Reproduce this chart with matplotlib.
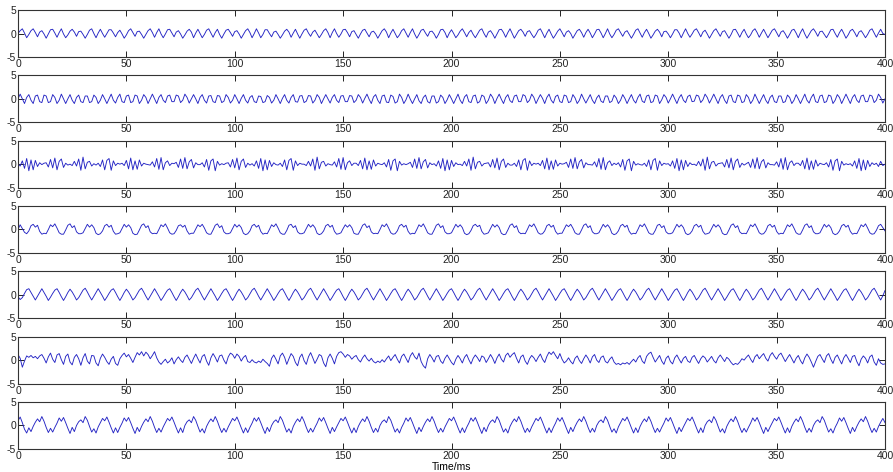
import numpy as np
import matplotlib
matplotlib.use('Agg')
import matplotlib.pyplot as plt

# sampling step of all channels, ms
dt = 1.0

ch1 = [
    0.0, 0.6, 1.0, 0.1, -0.9, -0.2, 0.6, 1.0, 0.2, -0.7, 0.3, 0.6, -0.1, -1.0, -0.1, 0.8, 0.9, 0.1,
    -0.8, 0.2, 1.0, -0.1, -0.9, -0.3, 0.5, 0.9, 0.3, -0.6, 0.4, 0.5, -0.2, -1.0, -0.2, 0.7, 1.0, 0.0,
    -0.9, 0.1, 0.9, 0.0, -0.8, 0.0, 0.8, 0.8, 0.1, -0.7, 0.2, 0.7, -0.1, -1.0, -0.3, 0.6, 1.0, 0.2,
    -0.6, 0.4, 0.5, -0.2, -1.0, -0.2, 0.6, 1.0, 0.2, -0.8, 0.2, 1.0, -0.1, -0.9, -0.1, 0.8, 0.9, 0.1,
    -0.7, 0.3, 0.6, -0.1, -1.0, -0.3, 0.5, 0.9, 0.3, -0.9, 0.1, 0.9, 0.0, -0.9, -0.2, 0.7, 1.0, 0.1,
    -0.8, 0.2, 0.9, -0.2, -1.0, -0.1, 0.7, 0.9, 0.2, -0.6, 0.4, 0.6, -0.1, -1.0, -0.2, 0.6, 1.0, 0.2,
    -0.9, 0.0, 1.0, 0.1, -0.9, -0.2, 0.8, 0.8, 0.0, -0.7, 0.3, 0.5, -0.2, -1.0, -0.3, 0.5, 0.9, 0.3,
    -0.8, 0.1, 0.9, -0.1, -1.0, -0.1, 0.7, 1.0, 0.1, -0.6, 0.3, 0.7, -0.1, -0.9, -0.2, 0.6, 1.0, 0.2,
    -0.9, 0.2, 1.0, 0.0, -0.8, -0.1, 0.8, 0.9, 0.2, -0.7, 0.4, 0.6, -0.2, -1.0, -0.1, 0.7, 0.9, 0.1,
    -0.7, 0.3, 0.5, -0.1, -1.0, -0.2, 0.6, 1.0, 0.3, -0.9, 0.1, 0.9, 0.0, -0.9, -0.3, 0.6, 1.0, 0.1,
    -0.8, 0.2, 1.0, -0.1, -1.0, -0.2, 0.7, 0.9, 0.1, -0.6, 0.4, 0.5, -0.1, -1.0, -0.2, 0.8, 0.9, 0.2,
    -0.9, 0.1, 0.8, 0.0, -0.9, -0.3, 0.5, 1.0, 0.2, -0.7, 0.2, 0.7, -0.2, -0.9, -0.1, 0.7, 1.0, 0.0,
    -0.8, 0.3, 0.6, -0.1, -1.0, -0.1, 0.8, 0.9, 0.2, -0.8, 0.2, 1.0, 0.0, -1.0, -0.2, 0.6, 0.9, 0.3,
    -0.6, 0.4, 0.6, -0.2, -0.9, -0.2, 0.7, 1.0, 0.1, -0.9, 0.1, 0.9, -0.1, -1.0, -0.3, 0.5, 1.0, 0.2,
    -0.7, 0.3, 0.6, 0.0, -1.0, -0.2, 0.6, 0.9, 0.2, -0.8, 0.2, 0.9, 0.1, -0.9, -0.1, 0.8, 0.9, 0.1,
    -0.9, 0.0, 1.0, -0.1, -0.9, -0.2, 0.7, 1.0, 0.2, -0.6, 0.3, 0.6, -0.2, -1.0, -0.2, 0.7, 1.0, 0.1,
    -0.8, 0.2, 0.9, 0.0, -1.0, -0.3, 0.5, 0.9, 0.3, -0.7, 0.4, 0.5, -0.1, -0.9, -0.1, 0.8, 0.8, 0.1,
    -0.9, 0.1, 1.0, 0.0, -0.8, -0.1, 0.7, 1.0, 0.2, -0.7, 0.3, 0.7, -0.1, -1.0, -0.2, 0.6, 1.0, 0.2,
    -0.6, 0.4, 0.6, -0.2, -1.0, -0.2, 0.8, 0.9, 0.1, -0.8, 0.2, 0.9, -0.1, -0.9, -0.3, 0.6, 1.0, 0.2,
    -0.8, 0.1, 0.9, 0.0, -0.9, -0.1, 0.7, 1.0, 0.2, -0.7, 0.3, 0.6, -0.1, -1.0, -0.2, 0.7, 0.9, 0.1,
    -0.9, 0.2, 1.0, -0.1, -1.0, -0.2, 0.6, 1.0, 0.3, -0.6, 0.4, 0.5, -0.2, -0.9, -0.1, 0.8, 0.9, 0.0,
    -0.8, 0.2, 0.9, 0.0, -1.0, -0.3, 0.6, 0.9, 0.2, -0.7, 0.3, 0.6, -0.1, -0.9, -0.2, 0.7, 1.0, 0.1,
    -0.8, 0.1, 0.9, 0.0, -0.2,
]

ch2 = [
    0.0, 1.0, 0.0, -1.0, 0.3, 0.9, -0.3, -1.0, 0.6, 0.8, -0.6, -0.8, 0.8, 0.6, -0.8, -0.6, 0.9, 0.3, -1.0, -0.3,
    1.0, 0.0, -1.0, 0.0, 0.9, -0.3, -1.0, 0.3, 0.8, -0.6, -0.8, 0.6, 0.6, -0.8, -0.6, 0.8, 0.3, -1.0, -0.3, 0.9,
    0.0, -1.0, 0.0, 1.0, -0.3, -0.9, 0.3, 1.0, -0.6, -0.8, 0.6, 0.8, -0.8, -0.6, 0.8, 0.6, -1.0, -0.3, 0.9, 0.3,
    -1.0, 0.0, 1.0, 0.0, -1.0, 0.3, 0.9, -0.3, -0.8, 0.6, 0.8, -0.6, -0.6, 0.8, 0.6, -0.8, -0.3, 1.0, 0.3, -0.9,
    0.0, 0.9, 0.0, -1.0, 0.3, 0.9, -0.3, -0.9, 0.6, 0.7, -0.6, -0.8, 0.7, 0.6, -0.8, -0.5, 0.9, 0.3, -0.9, -0.3,
    0.9, 0.0, -1.0, 0.1, 0.9, -0.3, -0.9, 0.3, 0.7, -0.6, -0.8, 0.6, 0.5, -0.8, -0.6, 0.7, 0.3, -0.9, -0.3, 0.9,
    0.0, -1.0, 0.1, 0.9, -0.3, -0.9, 0.3, 0.9, -0.6, -0.7, 0.6, 0.7, -0.8, -0.5, 0.7, 0.6, -0.9, -0.3, 0.9, 0.3,
    -1.0, 0.0, 0.9, 0.0, -0.9, 0.3, 0.9, -0.3, -0.8, 0.6, 0.7, -0.6, -0.6, 0.7, 0.6, -0.8, -0.3, 0.9, 0.3, -0.9,
    0.1, 1.0, -0.1, -1.0, 0.4, 0.9, -0.3, -1.0, 0.6, 0.8, -0.7, -0.8, 0.8, 0.5, -0.9, -0.6, 1.0, 0.3, -1.0, -0.2,
    1.0, -0.1, -1.0, 0.0, 0.9, -0.4, -1.0, 0.3, 0.8, -0.6, -0.9, 0.6, 0.6, -0.9, -0.6, 0.8, 0.3, -1.0, -0.2, 0.9,
    0.0, -1.0, 0.0, 1.0, -0.3, -1.0, 0.4, 0.9, -0.6, -0.8, 0.6, 0.8, -0.9, -0.6, 0.8, 0.5, -1.0, -0.3, 1.0, 0.3,
    -1.0, 0.1, 1.0, -0.1, -1.0, 0.3, 0.9, -0.4, -0.8, 0.6, 0.8, -0.6, -0.6, 0.9, 0.6, -0.8, -0.3, 1.0, 0.3, -1.0,
    0.0, 0.9, 0.1, -1.0, 0.3, 1.0, -0.3, -0.9, 0.5, 0.8, -0.6, -0.8, 0.8, 0.6, -0.8, -0.6, 0.9, 0.2, -1.0, -0.3,
    1.0, 0.0, -0.9, 0.0, 0.9, -0.3, -1.0, 0.2, 0.8, -0.5, -0.8, 0.6, 0.6, -0.8, -0.5, 0.8, 0.2, -1.0, -0.3, 0.9,
    0.1, -1.0, 0.0, 0.9, -0.3, -0.9, 0.3, 1.0, -0.5, -0.8, 0.6, 0.8, -0.8, -0.6, 0.8, 0.6, -1.0, -0.2, 0.9, 0.3,
    -0.9, 0.0, 1.0, 0.0, -1.0, 0.2, 0.9, -0.3, -0.8, 0.5, 0.8, -0.6, -0.5, 0.8, 0.6, -0.8, -0.2, 1.0, 0.3, -0.9,
    0.0, 1.0, 0.0, -1.0, 0.3, 0.9, -0.3, -1.0, 0.6, 0.8, -0.6, -0.8, 0.8, 0.6, -0.8, -0.6, 0.9, 0.3, -1.0, -0.3,
    1.0, 0.0, -1.0, 0.0, 0.9, -0.3, -1.0, 0.3, 0.8, -0.6, -0.8, 0.6, 0.6, -0.8, -0.6, 0.8, 0.3, -1.0, -0.3, 0.9,
    0.0, -1.0, 0.0, 1.0, -0.3, -0.9, 0.3, 1.0, -0.6, -0.8, 0.6, 0.8, -0.8, -0.6, 0.8, 0.6, -1.0, -0.3, 0.9, 0.3,
    -1.0, 0.0, 1.0, 0.0, -1.0, 0.3, 0.9, -0.3, -0.8, 0.6, 0.8, -0.6, -0.6, 0.8, 0.6, -0.8, -0.3, 1.0, 0.3, -0.9,
    0.0,
]

ch3 = [
    0.1, -0.4, 0.7, -0.9, 1.2, -1.4, 0.9, -1.2, 0.8, -0.5, 0.3, -0.1, 0.2, 0.3, -0.6, 1.0, -0.8, 1.3, -1.2, 0.6, 1.1, -0.7, 0.2, -0.2,
    0.0, -0.3, 0.6, -0.4, 1.1, -1.3, 1.5, -1.0, 0.4, 0.6, -0.4, 0.1, -0.2, 0.2, -0.5, 0.9, -1.2, 0.8, 1.2, -1.3, 0.7, -0.3, 0.2, 0.0,
    0.2, -0.3, 0.8, -1.0, 1.3, -1.2, 0.7, -1.1, 0.9, -0.4, 0.2, 0.0, -0.1, -0.2, 0.5, -0.6, 1.2, -1.1, 1.4, -1.2, 0.3, 0.7, -0.3, 0.2,
    0.1, 0.4, -0.7, 1.1, -0.9, 1.4, -1.0, 0.5, 1.0, -0.8, 0.3, -0.1, -0.1, 0.3, -0.6, 1.0, -1.3, 0.7, 1.1, -1.4, 0.6, -0.2, 0.1, -0.1,
    0.2, 0.3, -0.6, 1.0, -0.8, 1.3, -1.2, 0.6, 1.1, -0.7, 0.2, -0.2, 0.1, -0.4, 0.7, -0.9, 1.2, -1.4, 0.9, -1.2, 0.8, -0.5, 0.3, -0.1,
    -0.2, 0.2, -0.5, 0.9, -1.2, 0.8, 1.2, -1.3, 0.7, -0.3, 0.2, 0.0, 0.0, -0.3, 0.6, -0.4, 1.1, -1.3, 1.5, -1.0, 0.4, 0.6, -0.4, 0.1,
    -0.1, -0.2, 0.5, -0.6, 1.2, -1.1, 1.4, -1.2, 0.3, 0.7, -0.3, 0.2, 0.2, -0.3, 0.8, -1.0, 1.3, -1.2, 0.7, -1.1, 0.9, -0.4, 0.2, 0.0,
    -0.1, 0.3, -0.6, 1.0, -1.3, 0.7, 1.1, -1.4, 0.6, -0.2, 0.1, -0.1, 0.1, 0.4, -0.7, 1.1, -0.9, 1.4, -1.0, 0.5, 1.0, -0.8, 0.3, -0.1,
    0.1, -0.4, 0.7, -0.9, 1.2, -1.4, 0.9, -1.2, 0.8, -0.5, 0.3, -0.1, 0.0, -0.3, 0.6, -0.4, 1.1, -1.3, 1.5, -1.0, 0.4, 0.6, -0.4, 0.1,
    0.2, 0.3, -0.6, 1.0, -0.8, 1.3, -1.2, 0.6, 1.1, -0.7, 0.2, -0.2, -0.2, 0.2, -0.5, 0.9, -1.2, 0.8, 1.2, -1.3, 0.7, -0.3, 0.2, 0.0,
    0.2, -0.3, 0.8, -1.0, 1.3, -1.2, 0.7, -1.1, 0.9, -0.4, 0.2, 0.0, 0.1, 0.4, -0.7, 1.1, -0.9, 1.4, -1.0, 0.5, 1.0, -0.8, 0.3, -0.1,
    -0.1, -0.2, 0.5, -0.6, 1.2, -1.1, 1.4, -1.2, 0.3, 0.7, -0.3, 0.2, -0.1, 0.3, -0.6, 1.0, -1.3, 0.7, 1.1, -1.4, 0.6, -0.2, 0.1, -0.1,
    -0.2, 0.2, -0.5, 0.9, -1.2, 0.8, 1.2, -1.3, 0.7, -0.3, 0.2, 0.0, 0.1, -0.4, 0.7, -0.9, 1.2, -1.4, 0.9, -1.2, 0.8, -0.5, 0.3, -0.1,
    0.0, -0.3, 0.6, -0.4, 1.1, -1.3, 1.5, -1.0, 0.4, 0.6, -0.4, 0.1, 0.2, 0.3, -0.6, 1.0, -0.8, 1.3, -1.2, 0.6, 1.1, -0.7, 0.2, -0.2,
    0.1, 0.4, -0.7, 1.1, -0.9, 1.4, -1.0, 0.5, 1.0, -0.8, 0.3, -0.1, -0.1, -0.2, 0.5, -0.6, 1.2, -1.1, 1.4, -1.2, 0.3, 0.7, -0.3, 0.2,
    0.2, -0.3, 0.8, -1.0, 1.3, -1.2, 0.7, -1.1, 0.9, -0.4, 0.2, 0.0, -0.1, 0.3, -0.6, 1.0, -1.3, 0.7, 1.1, -1.4, 0.6, -0.2, 0.1, -0.1,
    0.1, -0.4, 0.7, -0.9, 1.2, -1.4, 0.9, -1.2, 0.8, -0.5, 0.3, -0.1,
    0.2, -0.5, 0.6, -0.3, 0.0,
]

ch4 = [
    0.0, 1.0, 0.2, -0.6,
    -0.9, -0.3, 0.8, 1.1, 0.5, 0.9, -0.4, -1.0, -0.8, -0.9, 0.0, 1.0, 0.6, 1.2, 0.3, -0.7, -1.0,
    -1.0, -0.1, 0.9, 1.2, 0.4, 0.8, -0.5, -0.9, -0.9, -0.7, 0.2, 1.1, 0.5, 1.0, 0.4, -0.8, -1.1,
    -0.9, -0.3, 0.8, 1.1, 0.5, 0.9, -0.4, -1.0, -0.9, -0.7, 0.2, 1.1, 0.5, 1.0, 0.4, -0.8, -1.1,
    -1.0, -0.1, 0.9, 1.2, 0.4, 0.8, -0.5, -0.9, -0.8, -0.9, 0.0, 1.0, 0.6, 1.2, 0.3, -0.7, -1.0,
    -0.9, -0.2, 0.8, 1.0, 0.5, 0.9, -0.3, -1.0, -0.8, -0.8, 0.1, 1.0, 0.6, 1.1, 0.3, -0.7, -1.0,
    -1.0, -0.1, 0.9, 1.2, 0.4, 0.8, -0.5, -0.9, -0.9, -0.7, 0.2, 1.1, 0.5, 1.0, 0.4, -0.8, -1.1,
    -0.9, -0.3, 0.8, 1.1, 0.5, 0.9, -0.4, -1.0, -0.8, -0.9, 0.0, 1.0, 0.6, 1.2, 0.3, -0.7, -1.0,
    -1.0, -0.2, 0.9, 1.1, 0.4, 0.8, -0.5, -0.9, -0.9, -0.7, 0.2, 1.1, 0.5, 1.0, 0.4, -0.8, -1.1,
    -0.9, -0.3, 0.8, 1.1, 0.5, 0.9, -0.4, -1.0, -0.9, -0.7, 0.2, 1.0, 0.5, 1.0, 0.4, -0.8, -1.0,
    -1.0, -0.1, 0.9, 1.2, 0.4, 0.8, -0.5, -0.9, -0.8, -0.9, 0.0, 1.0, 0.6, 1.2, 0.3, -0.7, -1.0,
    -0.9, -0.3, 0.8, 1.1, 0.5, 0.9, -0.4, -1.0, -0.8, -0.9, 0.0, 1.0, 0.6, 1.2, 0.3, -0.7, -1.0,
    -1.0, -0.1, 0.9, 1.2, 0.4, 0.8, -0.5, -0.9, -0.9, -0.7, 0.2, 1.1, 0.5, 1.0, 0.4, -0.8, -1.1,
    -0.9, -0.2, 0.8, 1.1, 0.6, 0.9, -0.4, -1.0, -0.9, -0.7, 0.2, 1.1, 0.5, 1.0, 0.4, -0.8, -1.1,
    -1.0, -0.1, 0.9, 1.2, 0.4, 0.8, -0.5, -0.9, -0.8, -0.9, 0.0, 1.0, 0.6, 1.2, 0.3, -0.7, -1.0,
    -0.9, -0.3, 0.8, 1.1, 0.5, 0.9, -0.4, -1.0, -0.8, -0.8, 0.1, 1.0, 0.6, 1.1, 0.3, -0.7, -1.0,
    -1.0, -0.1, 0.9, 1.2, 0.4, 0.8, -0.5, -0.9, -0.9, -0.7, 0.2, 1.1, 0.5, 1.0, 0.4, -0.8, -1.1,
    -0.9, -0.3, 0.8, 1.1, 0.5, 0.9, -0.4, -1.0, -0.8, -0.9, 0.0, 1.0, 0.6, 1.2, 0.3, -0.7, -1.0,
    -1.0, -0.2, 0.9, 1.1, 0.4, 0.8, -0.5, -0.9, -0.9, -0.7, 0.2, 1.1, 0.5, 1.0, 0.4, -0.8, -1.1,
    -0.9, -0.3, 0.8, 1.1, 0.5, 0.9, -0.4, -1.0, -0.9, -0.7, 0.2, 1.1, 0.5, 1.0, 0.4, -0.8, -1.1,
    -1.0, -0.1, 0.9, 1.2, 0.4, 0.8, -0.5, -0.9, -0.8, -0.9, 0.0, 1.0, 0.6, 1.2, 0.3, -0.7, -1.0,
    -0.9, -0.3, 0.8, 1.1, 0.5, 0.9, -0.4, -1.0, -0.8, -0.9, 0.0, 1.0, 0.6, 1.2, 0.3, -0.7, -1.0,
    -1.0, -0.1, 0.9, 1.2, 0.4, 0.8, -0.5, -0.9, -0.9, -0.7, 0.2, 1.1, 0.5, 1.0, 0.4, -0.8, -1.1,
    -0.9, -0.3, 0.8, 1.1, 0.5, 0.9, -0.4, -1.0, -0.8, -0.9, 0.0, 1.0, 0.6, 1.2, 0.3, -0.7, -1.0,
    -0.9, -0.2, 0.8, 1.1, 0.4, -0.3,
]

ch5 = [
    -0.4, -1.0, -0.6, 0.3, 1.1, 1.3, 0.5, -0.3,
    -1.1, -0.3, 0.5, 1.3, 0.5, -0.3, -1.2, -0.5, 0.3, 1.0, 1.3, 0.5, -0.4,
    -1.2, -0.4, 0.5, 1.2, 0.6, -0.2, -1.1, -0.6, 0.2, 1.0, 1.4, 0.6, -0.3,
    -1.1, -0.3, 0.5, 1.3, 0.5, -0.3, -1.2, -0.5, 0.3, 1.0, 1.3, 0.5, -0.4,
    -1.2, -0.4, 0.5, 1.2, 0.6, -0.2, -1.1, -0.6, 0.2, 1.0, 1.4, 0.6, -0.3,
    -1.1, -0.3, 0.5, 1.3, 0.5, -0.3, -1.2, -0.5, 0.3, 1.0, 1.3, 0.5, -0.4,
    -1.2, -0.4, 0.5, 1.2, 0.6, -0.2, -1.1, -0.6, 0.2, 1.0, 1.4, 0.6, -0.3,
    -1.1, -0.3, 0.5, 1.3, 0.5, -0.3, -1.2, -0.5, 0.3, 1.0, 1.3, 0.5, -0.4,
    -1.2, -0.4, 0.5, 1.2, 0.6, -0.2, -1.1, -0.6, 0.2, 1.0, 1.4, 0.6, -0.3,
    -1.1, -0.3, 0.5, 1.3, 0.5, -0.3, -1.2, -0.5, 0.3, 1.0, 1.3, 0.5, -0.4,
    -1.2, -0.4, 0.5, 1.2, 0.6, -0.2, -1.1, -0.6, 0.2, 1.0, 1.4, 0.6, -0.3,
    -1.1, -0.3, 0.5, 1.3, 0.5, -0.3, -1.2, -0.5, 0.3, 1.0, 1.3, 0.5, -0.4,
    -1.2, -0.4, 0.5, 1.2, 0.6, -0.2, -1.1, -0.6, 0.2, 1.0, 1.4, 0.6, -0.3,
    -1.1, -0.3, 0.5, 1.3, 0.5, -0.3, -1.2, -0.5, 0.3, 1.0, 1.3, 0.5, -0.4,
    -1.2, -0.4, 0.5, 1.2, 0.6, -0.2, -1.1, -0.6, 0.2, 1.0, 1.4, 0.6, -0.3,
    -1.1, -0.3, 0.5, 1.3, 0.5, -0.3, -1.2, -0.5, 0.3, 1.0, 1.3, 0.5, -0.4,
    -1.2, -0.4, 0.5, 1.2, 0.6, -0.2, -1.1, -0.6, 0.2, 1.0, 1.4, 0.6, -0.3,
    -1.1, -0.3, 0.5, 1.3, 0.5, -0.3, -1.2, -0.5, 0.3, 1.0, 1.3, 0.5, -0.4,
    -1.2, -0.4, 0.5, 1.2, 0.6, -0.2, -1.1, -0.6, 0.2, 1.0, 1.4, 0.6, -0.3,
    -1.1, -0.3, 0.5, 1.3, 0.5, -0.3, -1.2, -0.5, 0.3, 1.0, 1.3, 0.5, -0.4,
    -1.2, -0.4, 0.5, 1.2, 0.6, -0.2, -1.1, -0.6, 0.2, 1.0, 1.4, 0.6, -0.3,
    -1.1, -0.3, 0.5, 1.3, 0.5, -0.3, -1.2, -0.5, 0.3, 1.0, 1.3, 0.5, -0.4,
    -1.2, -0.4, 0.5, 1.2, 0.6, -0.2, -1.1, -0.6, 0.2, 1.0, 1.4, 0.6, -0.3,
    -1.1, -0.3, 0.5, 1.3, 0.5, -0.3, -1.2, -0.5, 0.3, 1.0, 1.3, 0.5, -0.4,
    -1.2, -0.4, 0.5, 1.2, 0.6, -0.2, -1.1, -0.6, 0.2, 1.0, 1.4, 0.6, -0.3,
    -1.1, -0.3, 0.5, 1.3, 0.5, -0.3, -1.2, -0.5, 0.3, 1.0, 1.3, 0.5, -0.4,
    -1.2, -0.4, 0.5, 1.2, 0.6, -0.2, -1.1, -0.6, 0.2, 1.0, 1.4, 0.6, -0.3,
    -1.1, -0.3, 0.5, 1.3, 0.5, -0.3, -1.2, -0.5, 0.3, 1.0, 1.3, 0.5, -0.4,
    -1.2, -0.4, 0.5, 1.2, 0.6, -0.2, -1.1, -0.6, 0.2, 1.0, 1.4, 0.6, -0.3,
    -1.1, -0.3, 0.5, 1.3, 0.5, -0.3, -1.2, -0.5, 0.3, 1.0, 1.3, 0.5, -0.4,
    -1.2, -0.4, 0.5, 1.2, 0.6, -0.2, -1.1, -0.6, 0.2, 1.0, 1.4, 0.6, -0.3,
    -1.1, -0.2, 0.9,
]

ch6 = [
    1.2, 0.4, -1.5, -0.2, 0.9, 0.6, 1.0, 0.5, 0.8, 0.3, 0.9, 1.2, 0.4, -0.6, 0.7, 1.5, 0.2, -0.5, 1.1, 1.4,
    0.1, -0.9, 0.8, 1.3, -0.4, -1.0, 0.6, 1.2, 0.3, -1.1, 0.5, 1.4, -0.2, -0.8, 1.0, 0.9, -0.6, -1.2, 0.4, 1.3,
    0.6, -0.3, -0.9, 0.2, 0.8, -0.7, -1.1, 0.3, 1.0, 1.5, 0.7, 1.2, 0.4, -0.5, 0.6, 1.6, 1.1, 1.8, 0.9, 1.7,
    1.2, 0.3, 1.0, 1.8, 0.5, -0.4, -0.9, -0.3, 0.2, -0.6, -0.2, 0.5, -0.8, 0.1, 0.7, 0.0, -0.5, 0.6, 1.1, 0.2,
    -0.7, 0.4, 1.3, 0.3, -0.6, 0.8, 1.2, -0.2, -1.1, 0.5, 1.4, 0.6, -0.4, 0.9, 1.1, 0.0, -0.8, 0.7, 1.5, 1.2,
    0.4, 1.3, 0.8, -0.2, 0.6, 1.0, -0.3, -0.5, 0.1, -0.4, -0.6, -0.2, -0.5, 0.2, -0.3, -0.7, -1.3, 0.4, 1.1, 0.2,
    -0.8, 0.9, 1.5, 0.6, -0.9, 0.3, 1.4, 0.8, -0.5, -1.2, 0.6, 1.3, -0.1, -0.9, 0.7, 1.6, 0.5, -0.7, 0.2, 1.2,
    0.9, -0.6, -1.4, 0.5, 1.3, 0.4, -0.8, 0.8, 1.6, 1.8, 1.3, 0.6, 1.2, 0.9, 0.2, 0.7, 1.0, 0.1, -0.4, 0.5,
    1.1, 0.3, -0.2, 0.4, -0.3, -0.6, -0.2, -0.5, 0.1, -0.4, 0.3, 0.9, -0.1, 0.6, 1.2, 0.2, -0.6, 0.8, 1.3, 0.4,
    -0.5, 0.9, 1.6, 0.7, 0.2, 1.5, -0.3, -1.2, -1.7, 0.3, 1.2, 0.5, -0.4, 0.8, 1.0, -0.2, -0.7, 0.4, 1.1, 0.3,
    -0.5, -1.0, 0.2, 1.0, 0.3, -0.6, 0.6, 1.2, 0.1, -0.8, 0.4, 1.1, 0.5, -0.3, 0.9, 0.6, -0.5, 0.3, 1.2, 0.4,
    -0.7, 0.5, 1.3, 0.2, -0.4, 1.0, 1.5, 0.6, 1.2, 1.6, 0.4, -0.6, 0.7, 1.1, -0.2, -0.9, 0.3, 1.0, 0.5, -0.3,
    0.6, 1.3, 0.2, -0.5, 0.8, 1.7, 1.2, 1.8, 1.0, 0.3, 1.4, 0.2, -0.6, -0.2, 0.5, -0.3, -0.8, 0.4, 0.9, -0.1,
    -0.7, 0.3, 1.1, 0.4, -0.6, 0.7, 1.2, 0.0, -0.5, 0.6, 0.9, -0.3, -0.6, 0.2, 0.7, -0.4, -0.9, -0.7, -1.0, -0.6,
    -0.8, -0.5, -0.9, -0.3, 0.2, -0.4, 0.5, 1.0, -0.2, -0.7, 0.8, 1.4, 1.7, 0.6, -0.4, 0.3, 1.0, -0.2, -0.9, 0.4,
    0.9, -0.3, -0.8, 0.5, 1.1, 0.2, -0.6, 0.4, 0.8, -0.2, -0.5, 0.6, 1.0, 0.1, -0.7, 0.3, 0.9, 0.5, -0.4, 0.2,
    0.8, -0.1, -0.6, 0.5, 1.1, 0.4, -0.3, 0.6, 0.2, -0.5, -1.0, -0.7, -0.9, -0.4, 0.3, 0.0, 0.6, 1.1, 0.2, -0.5,
    0.7, 1.2, 0.3, 0.9, 1.4, 0.4, -0.2, 1.0, 1.6, 0.8, 0.2, 1.1, 1.5, 0.6, -0.3, 0.5, 1.2, 0.3, -0.6, 0.4,
    1.0, -0.1, -0.8, 0.5, 1.3, 0.6, -0.4, -1.5, -0.3, 0.8, 1.2, 0.3, -0.5, 0.9, 1.4, 0.2, -0.7, 0.6, 1.1, 0.1,
    -0.8, 0.5, 1.2, 0.4, -0.5, 0.8, 1.0, -0.3, -1.2, 0.2, 0.9, 0.4, -0.6, 0.7, 1.1, -0.4, -1.1, 0.3, -0.6, -0.9,
    -0.8,
]

ch7 = [
    1.0, 1.8, 0.6, -0.8, -1.6, -0.5, -1.3,
    -0.2, 0.7, 1.4, 0.8, 1.9, 0.9, -0.4, -1.5, -0.6, -1.4, -0.4, 0.5, 1.6, 0.9, 1.7, 0.6, -0.6, -1.7, -0.4, -1.3,
    0.0, 0.8, 1.2, 0.6, 1.9, 1.1, -0.2, -1.4, -0.7, -1.6, -0.3, 0.6, 1.5, 1.0, 1.8, 0.7, -0.5, -1.6, -0.5, -1.5,
    -0.4, 0.5, 1.6, 0.9, 1.7, 0.6, -0.6, -1.7, -0.4, -1.3, -0.2, 0.7, 1.4, 0.8, 1.9, 0.9, -0.4, -1.5, -0.6, -1.4,
    -0.3, 0.6, 1.5, 1.0, 1.8, 0.7, -0.5, -1.6, -0.5, -1.5, 0.0, 0.8, 1.2, 0.6, 1.9, 1.1, -0.2, -1.4, -0.7, -1.6,
    -0.2, 0.7, 1.4, 0.8, 1.9, 0.9, -0.4, -1.5, -0.6, -1.4, -0.3, 0.6, 1.5, 1.0, 1.8, 0.7, -0.5, -1.6, -0.5, -1.5,
    -0.4, 0.5, 1.6, 0.9, 1.7, 0.6, -0.6, -1.7, -0.4, -1.3, 0.0, 0.8, 1.2, 0.6, 1.9, 1.1, -0.2, -1.4, -0.7, -1.6,
    -0.2, 0.7, 1.4, 0.8, 1.9, 0.9, -0.4, -1.5, -0.6, -1.4, -0.4, 0.5, 1.6, 0.9, 1.7, 0.6, -0.6, -1.7, -0.4, -1.3,
    -0.3, 0.6, 1.5, 1.0, 1.8, 0.7, -0.5, -1.6, -0.5, -1.5, -0.2, 0.7, 1.4, 0.8, 1.9, 0.9, -0.4, -1.5, -0.6, -1.4,
    0.0, 0.8, 1.2, 0.6, 1.9, 1.1, -0.2, -1.4, -0.7, -1.6, -0.4, 0.5, 1.6, 0.9, 1.7, 0.6, -0.6, -1.7, -0.4, -1.3,
    -0.2, 0.7, 1.4, 0.8, 1.9, 0.9, -0.4, -1.5, -0.6, -1.4, -0.3, 0.6, 1.5, 1.0, 1.8, 0.7, -0.5, -1.6, -0.5, -1.5,
    -0.4, 0.5, 1.6, 0.9, 1.7, 0.6, -0.6, -1.7, -0.4, -1.3, 0.0, 0.8, 1.2, 0.6, 1.9, 1.1, -0.2, -1.4, -0.7, -1.6,
    -0.2, 0.7, 1.4, 0.8, 1.9, 0.9, -0.4, -1.5, -0.6, -1.4, -0.3, 0.6, 1.5, 1.0, 1.8, 0.7, -0.5, -1.6, -0.5, -1.5,
    -0.4, 0.5, 1.6, 0.9, 1.7, 0.6, -0.6, -1.7, -0.4, -1.3, -0.2, 0.7, 1.4, 0.8, 1.9, 0.9, -0.4, -1.5, -0.6, -1.4,
    0.0, 0.8, 1.2, 0.6, 1.9, 1.1, -0.2, -1.4, -0.7, -1.6, -0.3, 0.6, 1.5, 1.0, 1.8, 0.7, -0.5, -1.6, -0.5, -1.5,
    -0.2, 0.7, 1.4, 0.8, 1.9, 0.9, -0.4, -1.5, -0.6, -1.4, -0.4, 0.5, 1.6, 0.9, 1.7, 0.6, -0.6, -1.7, -0.4, -1.3,
    -0.3, 0.6, 1.5, 1.0, 1.8, 0.7, -0.5, -1.6, -0.5, -1.5, 0.0, 0.8, 1.2, 0.6, 1.9, 1.1, -0.2, -1.4, -0.7, -1.6,
    -0.2, 0.7, 1.4, 0.8, 1.9, 0.9, -0.4, -1.5, -0.6, -1.4, -0.4, 0.5, 1.6, 0.9, 1.7, 0.6, -0.6, -1.7, -0.4, -1.3,
    -0.3, 0.6, 1.5, 1.0, 1.8, 0.7, -0.5, -1.6, -0.5, -1.5, -0.2, 0.7, 1.4, 0.8, 1.9, 0.9, -0.4, -1.5, -0.6, -1.4,
    0.0, 0.8, 1.2, 0.6, 1.9, 1.1, -0.2, -1.4, -0.7, -1.6, -0.4, 0.5, 1.6, 0.9, 1.7, 0.6, -0.6, -1.7, -0.4, -1.3,
    -0.2, 0.7, 1.4, 0.8, 1.9, 0.9, -0.4, -1.5, -0.6, -1.4,
    -0.2, 0.7, 1.5, 0.6,
]

channels = [ch1, ch2, ch3, ch4, ch5, ch6, ch7]
x_ticks = [0, 50, 100, 150, 200, 250, 300, 350, 400]
y_ticks = [-5, 0, 5]

plt.rcParams['font.family'] = ['Liberation Sans', 'DejaVu Sans']
plt.rcParams['axes.unicode_minus'] = False

W, H = 893, 472
fig = plt.figure(figsize=(W / 100, H / 100), dpi=100)

left, right = 18, 885
top0, pitch, h = 10, 65.33, 47

for i, ch in enumerate(channels):
    top = top0 + pitch * i
    ax = fig.add_axes([left / W, 1 - (top + h) / H, (right - left) / W, h / H])
    t = np.arange(len(ch)) * dt
    ax.plot(t, ch, color='#2424c4', lw=0.65)
    ax.set_xlim(0, 400)
    ax.set_ylim(-5, 5)
    ax.set_xticks(x_ticks)
    ax.set_yticks(y_ticks)
    ax.tick_params(direction='in', top=True, right=True, length=4, width=0.7,
                   labelsize=7.5, pad=1.5, colors='#222222')
    for sp in ax.spines.values():
        sp.set_color('#333333')
        sp.set_linewidth(0.8)

ax.set_xlabel('Time/ms', fontsize=7.5, labelpad=0.5)

fig.savefig('out.png', dpi=100)
